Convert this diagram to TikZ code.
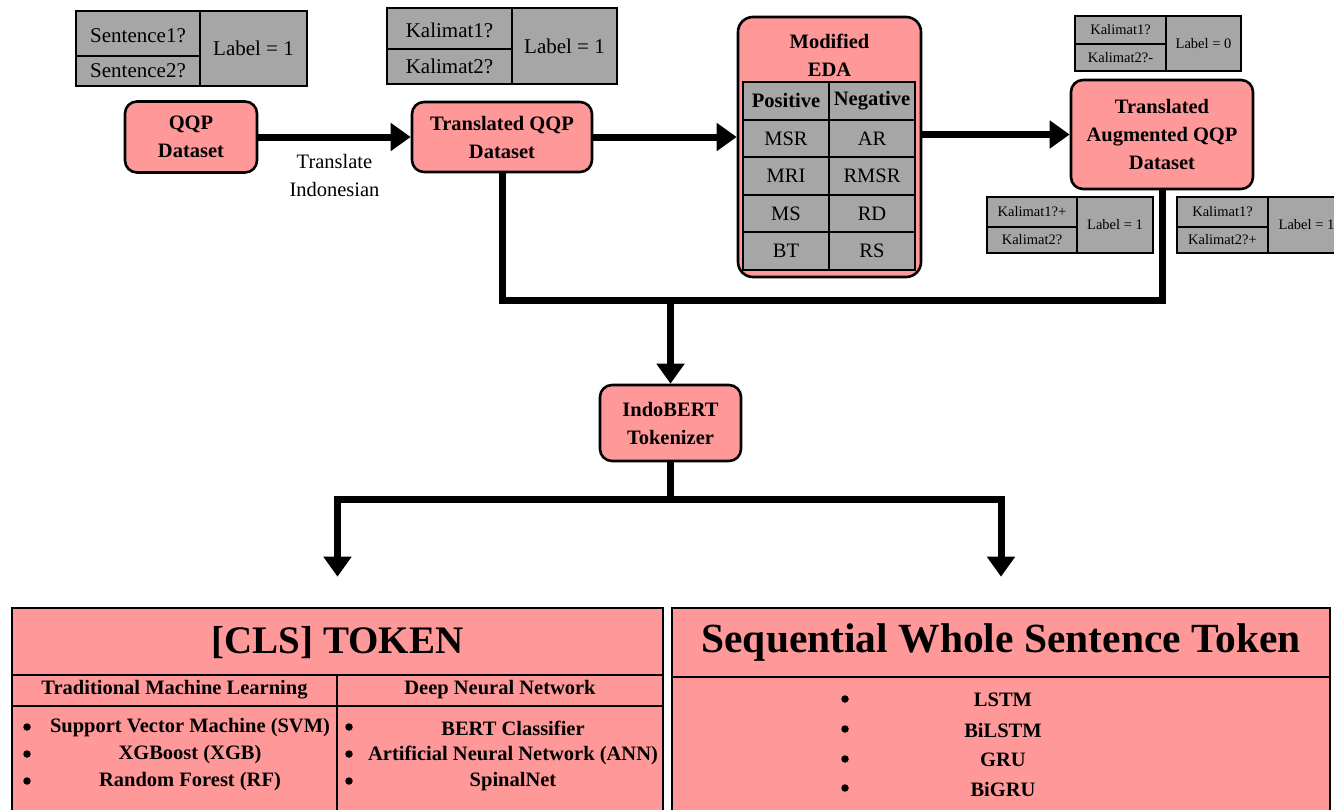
\documentclass[tikz,border=0pt]{standalone}
\usepackage{fontspec}
\setmainfont{Liberation Serif}
\usetikzlibrary{arrows.meta}
\definecolor{boxpink}{HTML}{FF9999}
\definecolor{cellgray}{HTML}{A6A6A6}
\newcommand{\fsz}[2]{\fontsize{#1}{#2}\selectfont}
% lower the text inside its cell by #1 while keeping the cell centred
\newcommand{\lowered}[2]{\raisebox{-#1}[\dimexpr\height-#1\relax][0pt]{#2}}

\begin{document}
\begin{tikzpicture}[x=1pt,y=-1pt,
  pinkbox/.style={draw, fill=boxpink, line width=2.6pt, rounded corners=12pt,
    align=center, inner sep=0pt, font=\bfseries\fsz{20.5}{28}},
  graycell/.style={draw, fill=cellgray, line width=2.6pt, inner sep=0pt, font=\fsz{21}{24}},
  smallcell/.style={graycell, font=\fsz{14.5}{17}},
  edacell/.style={draw, fill=cellgray, line width=2pt, inner sep=0pt,
    minimum width=86pt, minimum height=37.6pt, font=\fsz{20.5}{24}},
  flow/.style={line width=7pt},
  conn/.style={flow, -{Triangle[length=20pt,width=27pt]}},
  bigbox/.style={draw, fill=boxpink, line width=2.6pt, inner sep=0pt},
  rulestroke/.style={line width=2.6pt},
  txt/.style={inner sep=0pt, align=center, font=\fsz{20.5}{28}},
  btxt/.style={txt, font=\bfseries\fsz{20.5}{28}},
  dot/.style={circle, fill=black, inner sep=0pt, minimum size=7.5pt}
]
\useasboundingbox (0,0) rectangle (1334,809);

% ---------- example pairs ----------
\node[graycell, minimum width=124pt, minimum height=45pt] (s1) at (138,33.5) {\lowered{4pt}{Sentence1?}};
\node[graycell, minimum width=124pt, minimum height=30pt] (s2) at (138,71) {Sentence2?};
\node[graycell, minimum width=107pt, minimum height=75pt] (sl) at (253.5,48.5) {Label = 1};

\node[graycell, minimum width=125pt, minimum height=41pt] (k1) at (449.5,28.5) {\lowered{3pt}{Kalimat1?}};
\node[graycell, minimum width=125pt, minimum height=35pt] (k2) at (449.5,66.5) {Kalimat2?};
\node[graycell, minimum width=105pt, minimum height=76pt] (kl) at (564.5,46) {Label = 1};

\node[smallcell, minimum width=91pt, minimum height=28pt] (n1) at (1120.5,30) {Kalimat1?};
\node[smallcell, minimum width=91pt, minimum height=27pt] (n2) at (1120.5,57.5) {Kalimat2?-};
\node[smallcell, minimum width=75pt, minimum height=55pt] (nl) at (1203.5,43.5) {Label = 0};

\node[smallcell, minimum width=90pt, minimum height=30pt] (p1) at (1032,212) {Kalimat1?+};
\node[smallcell, minimum width=90pt, minimum height=26pt] (p2) at (1032,240) {Kalimat2?};
\node[smallcell, minimum width=76pt, minimum height=56pt] (pl) at (1115,225) {Label = 1};

\node[smallcell, minimum width=91pt, minimum height=30pt] (q1) at (1222.5,212) {Kalimat1?};
\node[smallcell, minimum width=91pt, minimum height=26pt] (q2) at (1222.5,240) {Kalimat2?+};
\node[smallcell, minimum width=77pt, minimum height=56pt] (ql) at (1306.5,225) {Label = 1};

% ---------- pipeline boxes ----------
\node[pinkbox, minimum width=132pt, minimum height=71pt] (qqp) at (191,137) {QQP\\Dataset};
\node[pinkbox, minimum width=180pt, minimum height=70pt] (tqqp) at (502,137) {Translated QQP\\Dataset};
\node[pinkbox, rounded corners=15pt, minimum width=183pt, minimum height=260pt] (eda) at (829.5,147) {};
\node[btxt] (edatitle) at (829.5,55) {Modified\\EDA};
\node[pinkbox, minimum width=182pt, minimum height=109pt] (aug) at (1162,134.5) {Translated\\Augmented QQP\\Dataset};
\node[pinkbox, minimum width=141pt, minimum height=76pt] (indo) at (670.5,423) {IndoBERT\\Tokenizer};

% ---------- EDA operation table ----------
\node[edacell, font=\bfseries\fsz{20.5}{24}] (pos) at (786,100.8) {Positive};
\node[edacell, font=\bfseries\fsz{20.5}{24}] (neg) at (872,100.8) {Negative};
\node[edacell] (msr) at (786,138.4) {MSR};
\node[edacell] (ar) at (872,138.4) {AR};
\node[edacell] (mri) at (786,176) {MRI};
\node[edacell] (rmsr) at (872,176) {RMSR};
\node[edacell] (ms) at (786,213.6) {MS};
\node[edacell] (rd) at (872,213.6) {RD};
\node[edacell] (bt) at (786,251.2) {BT};
\node[edacell] (rs) at (872,251.2) {RS};

% ---------- connectors ----------
\draw[conn] (qqp.east) -- node[txt, below=14pt] (tr) {Translate\\Indonesian} (tqqp.west);
\draw[conn] (tqqp.east) -- (tqqp.east -| eda.west);
\draw[conn] (eda.east |- aug.west) -- (aug.west);

\coordinate (join) at (670.5,300);
\draw[flow] (tqqp.south) -- (tqqp.south |- join) -- (aug.south |- join) -- (aug.south);
\draw[conn] (join) -- (indo.north);

% ---------- output branches ----------
\node[bigbox, minimum width=651pt, minimum height=204pt] (cls) at (337.5,710) {};
\node[bigbox, minimum width=658pt, minimum height=204pt] (seq) at (1001,710) {};

\coordinate (split) at (670.5,499);
\draw[flow] (indo.south) -- (split);
\draw[conn, shorten >=30pt] (split) -| (cls.north);
\draw[conn, shorten >=30pt] (split) -| (seq.north);

% CLS token box
\draw[rulestroke] (12,675) -- (663,675);
\draw[rulestroke] (12,706) -- (663,706);
\draw[rulestroke] (337,675) -- (337,812);
\node[btxt, font=\bfseries\fsz{39}{44}] (clst) at (337.5,643) {[CLS] TOKEN};
\node[btxt] (tml) at (174.5,690) {Traditional Machine Learning};
\node[btxt] (dnn) at (500,690) {Deep Neural Network};

\node[dot] (b1) at (27,727) {};
\node[dot] (b2) at (27,754) {};
\node[dot] (b3) at (27,781) {};
\node[btxt] (svm) at (190,728) {Support Vector Machine (SVM)};
\node[btxt] (xgb) at (190,755) {XGBoost (XGB)};
\node[btxt] (rf) at (190,782) {Random Forest (RF)};

\node[dot] (b4) at (349,727) {};
\node[dot] (b5) at (349,754) {};
\node[dot] (b6) at (349,781) {};
\node[btxt] (bert) at (513,728) {BERT Classifier};
\node[btxt] (ann) at (513,755) {Artificial Neural Network (ANN)};
\node[btxt] (spn) at (513,782) {SpinalNet};

% Sequential token box
\draw[rulestroke] (672,677) -- (1330,677);
\node[btxt, font=\bfseries\fsz{41.5}{46}] (seqt) at (1001,643) {Sequential Whole Sentence Token};

\node[dot] (c1) at (845,699) {};
\node[dot] (c2) at (845,729) {};
\node[dot] (c3) at (845,759) {};
\node[dot] (c4) at (845,788) {};
\node[btxt] (lstm) at (1003,700) {LSTM};
\node[btxt] (bilstm) at (1003,730) {BiLSTM};
\node[btxt] (gru) at (1003,760) {GRU};
\node[btxt] (bigru) at (1003,789) {BiGRU};
\end{tikzpicture}
\end{document}
